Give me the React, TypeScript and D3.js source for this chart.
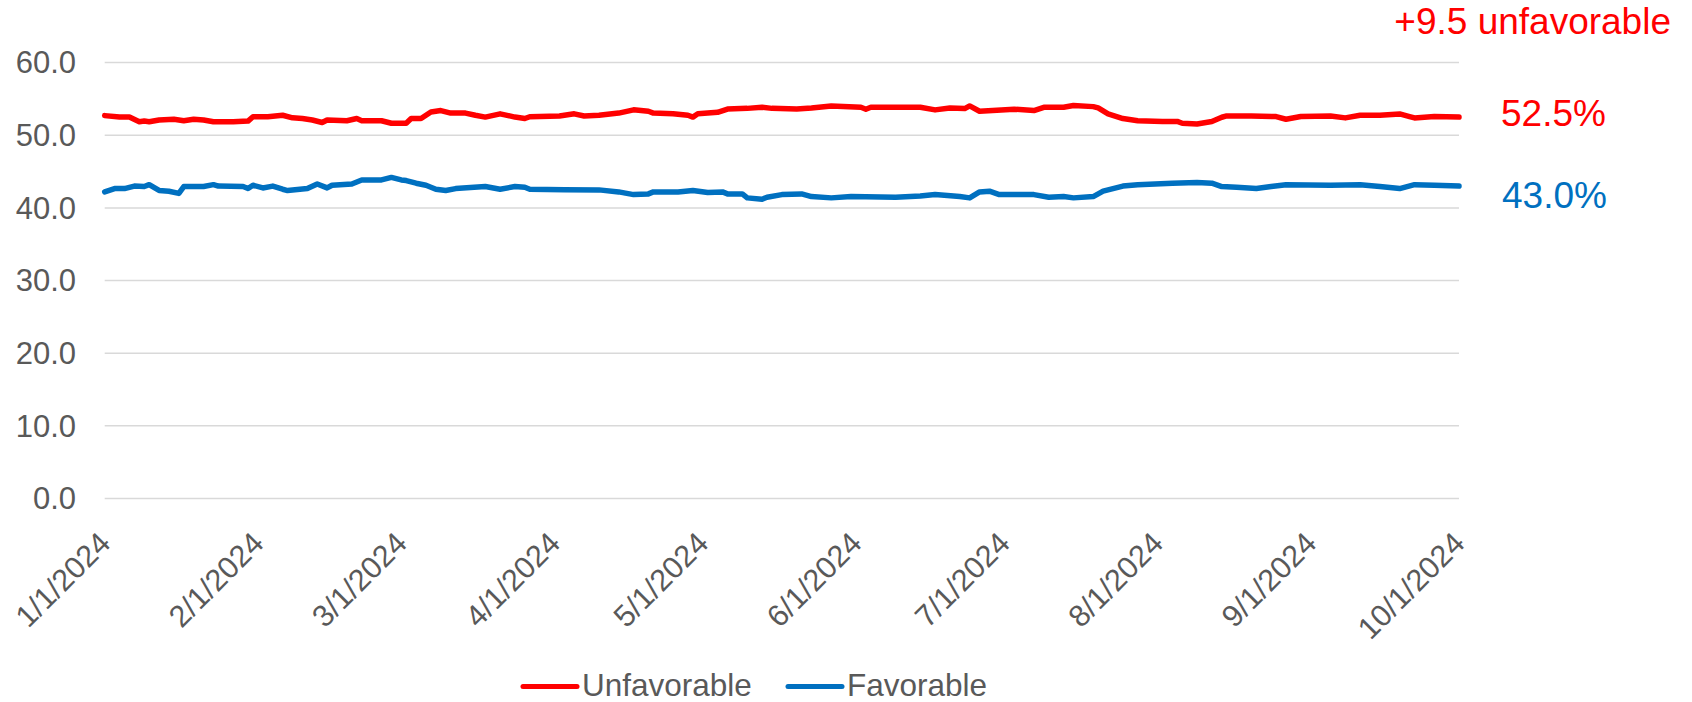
import React from "react";
import * as d3 from "d3";

// ---- Data ----
const unfavorableDates = [
  "1/1","1/4","1/6","1/8","1/9","1/10","1/12","1/15","1/17","1/19","1/21","1/23","1/27","1/30","1/31",
  "2/3","2/6","2/8","2/10","2/12","2/14","2/15","2/19","2/21","2/22","2/26","2/28",
  "3/2","3/3","3/5","3/7","3/9","3/11","3/14","3/16","3/18","3/21","3/24","3/26","3/27",
  "4/2","4/5","4/7","4/10","4/14","4/17","4/20","4/21","4/25","4/28","4/29","4/30",
  "5/4","5/6","5/10","5/13","5/15","5/20","5/23","5/27",
  "6/2","6/3","6/4","6/14","6/17","6/20","6/23","6/24","6/26",
  "7/3","7/7","7/9","7/13","7/15","7/19","7/20","7/22","7/25","7/28",
  "8/2","8/5","8/6","8/9","8/12","8/14","8/15","8/20","8/25","8/27","8/30",
  "9/5","9/8","9/11","9/15","9/19","9/21","9/22","9/26","10/1"
];
const unfavorableValues = [
  52.7,52.5,52.5,51.85,51.95,51.85,52.1,52.2,52.0,52.2,52.1,51.85,51.85,51.95,52.55,
  52.55,52.75,52.4,52.3,52.1,51.75,52.1,52.0,52.3,52.0,52.0,51.65,
  51.65,52.3,52.3,53.2,53.4,53.05,53.05,52.75,52.5,52.95,52.5,52.3,52.55,
  52.65,52.95,52.65,52.75,53.05,53.5,53.3,53.05,52.95,52.75,52.5,52.95,
  53.15,53.6,53.7,53.85,53.7,53.6,53.76,54.04,
  53.85,53.58,53.85,53.85,53.49,53.76,53.67,54.04,53.3,
  53.58,53.4,53.85,53.85,54.1,53.94,53.76,52.94,52.3,52.0,
  51.9,51.9,51.65,51.56,51.9,52.48,52.66,52.66,52.57,52.2,52.57,
  52.66,52.39,52.75,52.75,52.94,52.57,52.39,52.57,52.5
];

const favorableDates = [
  "1/1","1/3","1/5","1/7","1/9","1/10","1/12","1/14","1/16","1/17","1/21","1/23","1/24","1/29","1/30","1/31",
  "2/2","2/4","2/6","2/7","2/11","2/13","2/15","2/16","2/20","2/22","2/26","2/28",
  "3/1","3/2","3/4","3/6","3/8","3/10","3/12","3/18","3/21","3/24","3/26","3/27",
  "4/3","4/10","4/14","4/17","4/20","4/21","4/26","4/29",
  "5/2","5/5","5/6","5/9","5/10","5/13","5/14","5/17","5/21","5/23","5/27","5/31",
  "6/9","6/14","6/17","6/22","6/24","6/26","6/28","6/30",
  "7/7","7/10","7/13","7/15","7/19","7/21","7/25","7/28",
  "8/4","8/9","8/12","8/14","8/17","8/21","8/24","8/27",
  "9/5","9/11","9/15","9/19","9/22","9/26","10/1"
];
const favorableValues = [
  42.2,42.66,42.66,43.0,42.94,43.2,42.4,42.3,42.0,42.94,42.94,43.2,43.0,42.94,42.66,43.12,
  42.75,43.0,42.57,42.39,42.66,43.3,42.75,43.12,43.3,43.85,43.85,44.2,
  43.85,43.76,43.4,43.12,42.57,42.39,42.66,42.94,42.57,42.94,42.84,42.57,
  42.5,42.48,42.2,41.83,41.93,42.2,42.2,42.39,
  42.11,42.2,41.93,41.93,41.38,41.2,41.47,41.83,41.93,41.56,41.38,41.56,
  41.47,41.65,41.83,41.56,41.38,42.2,42.3,41.83,
  41.83,41.47,41.56,41.38,41.56,42.3,43.0,43.2,
  43.4,43.5,43.4,42.94,42.84,42.66,42.94,43.2,
  43.12,43.2,42.94,42.66,43.2,43.12,43.0
];

const yTicks = [0, 10, 20, 30, 40, 50, 60];
const xTickDates = ["1/1","2/1","3/1","4/1","5/1","6/1","7/1","8/1","9/1","10/1"];
const seriesNames = ["Unfavorable", "Favorable"];
const seriesColors = ["#FF0000", "#0070C0"];
const annotationText = "+9.5 unfavorable";
const endLabels = ["52.5%", "43.0%"];

// ---- Layout ----
const W = 1692;
const H = 702;
const margin = { left: 104.7, right: W - 1459, top: 62.6, bottom: H - 498.5 };
const FONT = "'Liberation Sans', Arial, sans-serif";
const GRAY = "#595959";

const parseDate = (s: string) => {
  const [m, d] = s.split("/").map(Number);
  return new Date(2024, m - 1, d);
};
const fmt = d3.timeFormat("%-m/%-d/%Y");

export default function App() {
  const x = d3
    .scaleTime()
    .domain([parseDate("1/1"), parseDate("10/1")])
    .range([margin.left, W - margin.right]);
  const y = d3.scaleLinear().domain([0, 60]).range([H - margin.bottom, margin.top]);

  const line = d3
    .line<[Date, number]>()
    .x((d) => x(d[0]))
    .y((d) => y(d[1]));

  const series = [
    unfavorableDates.map((s, i) => [parseDate(s), unfavorableValues[i]] as [Date, number]),
    favorableDates.map((s, i) => [parseDate(s), favorableValues[i]] as [Date, number]),
  ];

  const xTicks = xTickDates.map(parseDate);
  const lastU = unfavorableValues[unfavorableValues.length - 1];
  const lastF = favorableValues[favorableValues.length - 1];

  return (
    <svg
      width={W}
      height={H}
      style={{ position: "absolute", left: 0, top: 0, background: "#fff" }}
      fontFamily={FONT}
    >
      {/* gridlines */}
      {yTicks.map((t) => (
        <line
          key={"g" + t}
          x1={margin.left}
          x2={W - margin.right}
          y1={y(t)}
          y2={y(t)}
          stroke="#D9D9D9"
          strokeWidth={1.5}
        />
      ))}
      {/* y labels */}
      {yTicks.map((t) => (
        <text
          key={"yl" + t}
          x={76}
          y={y(t)}
          dy="0.35em"
          textAnchor="end"
          fontSize={31}
          fill={GRAY}
        >
          {t.toFixed(1)}
        </text>
      ))}
      {/* x labels */}
      {xTicks.map((d) => (
        <text
          key={"xl" + d.getTime()}
          transform={`translate(${x(d)},${y(0) + 39}) rotate(-45)`}
          dy="0.35em"
          textAnchor="end"
          fontSize={30.5}
          fill={GRAY}
        >
          {fmt(d)}
        </text>
      ))}
      {/* lines */}
      {series.map((s, i) => (
        <path
          key={"s" + i}
          d={line(s) || ""}
          fill="none"
          stroke={seriesColors[i]}
          strokeWidth={5.5}
          strokeLinejoin="round"
          strokeLinecap="round"
        />
      ))}
      {/* annotations */}
      <text x={1671} y={34} textAnchor="end" fontSize={37} fill={seriesColors[0]}>
        {annotationText}
      </text>
      <text x={1501} y={y(lastU) + 9} fontSize={37} fill={seriesColors[0]}>
        {endLabels[0]}
      </text>
      <text x={1502} y={y(lastF) + 22} fontSize={37} fill={seriesColors[1]}>
        {endLabels[1]}
      </text>
      {/* legend */}
      {seriesNames.map((name, i) => {
        const lx = i === 0 ? 523 : 788;
        return (
          <g key={"lg" + i}>
            <line
              x1={lx}
              x2={lx + 54}
              y1={686.5}
              y2={686.5}
              stroke={seriesColors[i]}
              strokeWidth={5}
              strokeLinecap="round"
            />
            <text x={lx + 59} y={695.5} fontSize={31.5} fill={GRAY}>
              {name}
            </text>
          </g>
        );
      })}
    </svg>
  );
}
